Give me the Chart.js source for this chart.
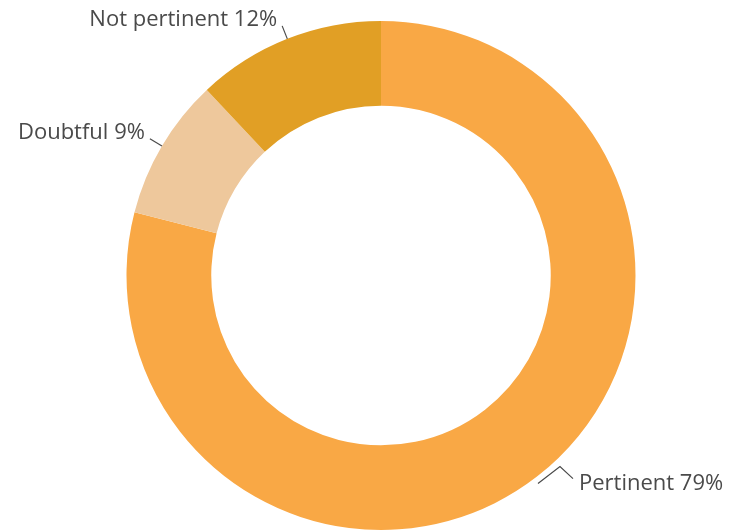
<!DOCTYPE html>
<html><head><meta charset="utf-8">
<script src="https://cdn.jsdelivr.net/npm/chart.js@4"></script>
<style>html,body{margin:0;padding:0;background:#fff}#wrap{width:731px;height:531px;position:relative}</style>
</head><body><div id="wrap"><canvas id="c"></canvas></div>
<script>
const categories = ["Pertinent", "Doubtful", "Not pertinent"];
const values = [79, 9, 12];
const colors = ["#F9A845", "#EEC89C", "#E19F25"];

const labelPlugin = {
  id: 'leaderLabels',
  afterDatasetsDraw(chart) {
    const ctx = chart.ctx;
    const meta = chart.getDatasetMeta(0);
    ctx.save();
    ctx.font = '22px "Open Sans", sans-serif';
    ctx.fillStyle = '#4a4a4a';
    ctx.strokeStyle = '#4a4a4a';
    ctx.lineWidth = 1.2;
    meta.data.forEach((arc, i) => {
      const mid = (arc.startAngle + arc.endAngle) / 2;
      const dx = Math.cos(mid), dy = Math.sin(mid);
      const R = arc.outerRadius;
      const mx = arc.x + dx * R, my = arc.y + dy * R;
      const text = categories[i] + ' ' + values[i] + '%';
      let pts, tx, ty, align;
      if (dx > 0) {
        pts = [[mx + 1, my + 7], [mx + 23, my - 10], [mx + 36, my + 2]];
        tx = mx + 42; ty = my + 13.5; align = 'left';
      } else {
        pts = [[mx, my], [mx + dx * 14, my + dy * 14]];
        const e = pts[1];
        tx = e[0] - 5; ty = e[1]; align = 'right';
      }
      ctx.beginPath();
      ctx.moveTo(pts[0][0], pts[0][1]);
      for (let k = 1; k < pts.length; k++) ctx.lineTo(pts[k][0], pts[k][1]);
      ctx.stroke();
      ctx.textAlign = align;
      ctx.textBaseline = 'alphabetic';
      ctx.fillText(text, tx, ty);
    });
    ctx.restore();
  }
};

new Chart(document.getElementById('c'), {
  type: 'doughnut',
  data: {
    labels: categories,
    datasets: [{ data: values, backgroundColor: colors, borderWidth: 0, hoverOffset: 0 }]
  },
  options: {
    responsive: true,
    maintainAspectRatio: false,
    animation: false,
    cutout: '66.7%',
    layout: { padding: { top: 21, bottom: 1, left: 31, right: 0 } },
    plugins: { legend: { display: false }, tooltip: { enabled: false } }
  },
  plugins: [labelPlugin]
});
</script></body></html>
